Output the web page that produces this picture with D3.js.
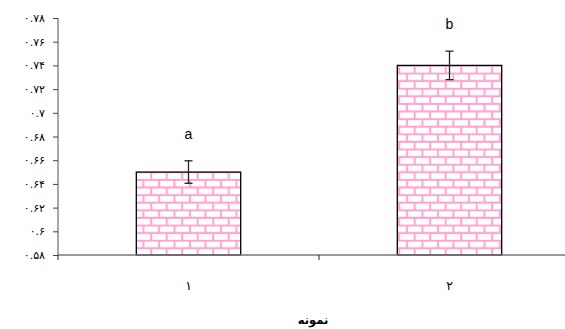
<!DOCTYPE html>
<html>
<head>
<meta charset="utf-8">
<script src="https://cdn.jsdelivr.net/npm/d3@7"></script>
<style>
  body { margin: 0; background: #fff; }
  svg { display: block; font-family: "Liberation Sans", Arial, "DejaVu Sans", sans-serif; }
</style>
</head>
<body>
<div id="chart"></div>
<script>
// data
const categories = ["۱", "۲"];
const values = [0.650, 0.740];
const errors = [0.0095, 0.012];
const letters = ["a", "b"];
const yTicks = [0.58, 0.6, 0.62, 0.64, 0.66, 0.68, 0.7, 0.72, 0.74, 0.76, 0.78];
const yTickLabels = ["۰.۵۸", "۰.۶", "۰.۶۲", "۰.۶۴", "۰.۶۶", "۰.۶۸", "۰.۷", "۰.۷۲", "۰.۷۴", "۰.۷۶", "۰.۷۸"];
const xTitle = "نمونه";

const width = 565, height = 329;
const plotLeft = 58, plotRight = 580, plotTop = 18, plotBottom = 255;

const svg = d3.select("#chart").append("svg")
  .attr("width", width)
  .attr("height", height);

// brick pattern
const pat = svg.append("defs").append("pattern")
  .attr("id", "brick")
  .attr("patternUnits", "userSpaceOnUse")
  .attr("width", 15.5)
  .attr("height", 15.2)
  .attr("x", 0)
  .attr("y", plotBottom);
pat.append("rect").attr("width", 15.5).attr("height", 15.2).attr("fill", "#fff");
const brickColor = "#ffa3d0";
pat.append("path")
  .attr("d", "M0,0.8H15.5 M0,8.4H15.5 M4,0.8V8.4 M11.75,8.4V15.2")
  .attr("stroke", brickColor)
  .attr("stroke-width", 2)
  .attr("fill", "none");

const x = d3.scaleBand()
  .domain(categories)
  .range([plotLeft, plotRight])
  .paddingInner(0)
  .paddingOuter(0);

const y = d3.scaleLinear()
  .domain([0.58, 0.78])
  .range([plotBottom, plotTop]);

const barW = x.bandwidth() * 0.4;
const cx = i => x(categories[i]) + x.bandwidth() / 2;

// bars
svg.selectAll("rect.bar")
  .data(values)
  .enter()
  .append("rect")
    .attr("class", "bar")
    .attr("x", (d, i) => cx(i) - barW / 2)
    .attr("y", d => y(d))
    .attr("width", barW)
    .attr("height", d => y(0.58) - y(d))
    .attr("fill", "url(#brick)")
    .attr("stroke", "#000")
    .attr("stroke-width", 1.3);

// error bars
const eb = svg.selectAll("g.err")
  .data(values)
  .enter()
  .append("g")
    .attr("class", "err")
    .attr("stroke", "#222")
    .attr("stroke-width", 1.3);
eb.append("line")
  .attr("x1", (d, i) => cx(i))
  .attr("x2", (d, i) => cx(i))
  .attr("y1", (d, i) => y(d + errors[i]))
  .attr("y2", (d, i) => y(d - errors[i]));
eb.append("line")
  .attr("x1", (d, i) => cx(i) - 4)
  .attr("x2", (d, i) => cx(i) + 4)
  .attr("y1", (d, i) => y(d + errors[i]))
  .attr("y2", (d, i) => y(d + errors[i]));
eb.append("line")
  .attr("x1", (d, i) => cx(i) - 4)
  .attr("x2", (d, i) => cx(i) + 4)
  .attr("y1", (d, i) => y(d - errors[i]))
  .attr("y2", (d, i) => y(d - errors[i]));

// significance letters
svg.selectAll("text.letter")
  .data(values)
  .enter()
  .append("text")
    .attr("class", "letter")
    .attr("x", (d, i) => cx(i))
    .attr("y", (d, i) => y(d + errors[i]) - 22)
    .attr("text-anchor", "middle")
    .attr("font-size", 14)
    .text((d, i) => letters[i]);

// y axis
const yAxis = d3.axisLeft(y)
  .tickValues(yTicks)
  .tickSize(5)
  .tickPadding(8)
  .tickFormat((d, i) => yTickLabels[i]);
const gy = svg.append("g")
  .attr("transform", `translate(${plotLeft},0)`)
  .call(yAxis);
gy.select(".domain").attr("stroke", "#777").attr("stroke-width", 1.3).attr("d", `M0,${plotTop}V${plotBottom}`);
gy.selectAll(".tick line").attr("stroke", "#444");
gy.selectAll(".tick text")
  .attr("font-size", 11)
  .attr("fill", "#000")
  .attr("font-family", "'DejaVu Sans', sans-serif");

// x axis
const xAxis = d3.axisBottom(x).tickSize(0).tickPadding(26).tickFormat(d => d);
const gx = svg.append("g")
  .attr("transform", `translate(0,${plotBottom})`)
  .call(xAxis);
gx.select(".domain").attr("stroke", "#777").attr("stroke-width", 1.3).attr("d", `M${plotLeft},0H${plotRight}`);
gx.selectAll(".tick text")
  .attr("font-size", 12.5)
  .attr("fill", "#000")
  .attr("font-family", "'DejaVu Sans', sans-serif");
// category boundary ticks
gx.selectAll("line.sep")
  .data([plotLeft, x(categories[1]), plotRight])
  .enter()
  .append("line")
    .attr("class", "sep")
    .attr("x1", d => d).attr("x2", d => d)
    .attr("y1", 0).attr("y2", 5)
    .attr("stroke", "#444")
    .attr("stroke-width", 1.2);

// x title
svg.append("text")
  .attr("x", x(categories[1]) - 6)
  .attr("y", 324)
  .attr("text-anchor", "middle")
  .attr("font-size", 11.5)
  .attr("font-weight", "bold")
  .attr("font-family", "'DejaVu Sans', sans-serif")
  .text(xTitle);
</script>
</body>
</html>
